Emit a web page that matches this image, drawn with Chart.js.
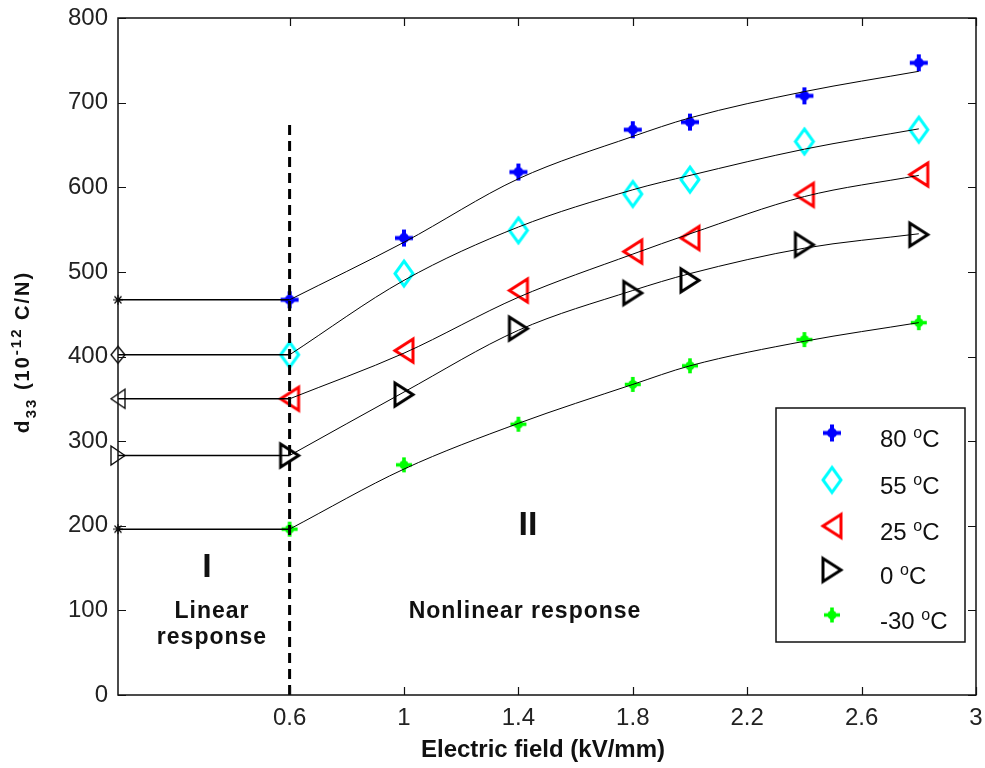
<!DOCTYPE html>
<html>
<head>
<meta charset="utf-8">
<script src="https://cdn.jsdelivr.net/npm/chart.js@4.4.1/dist/chart.umd.min.js"></script>
<style>
  html, body { margin: 0; padding: 0; background: #fff; }
  #wrap { width: 985px; height: 768px; }
</style>
</head>
<body>
<div id="wrap"><canvas id="d33Chart" width="985" height="768"></canvas></div>
<script>
// --- DATA ---
// electric field where d33 was measured (kV/mm)
const fieldPoints = [0.6, 1.0, 1.4, 1.8, 2.0, 2.4, 2.8];
const temperatureLabels = ['80', '55', '25', '0', '-30'];

// measured d33 (10^-12 C/N)
const d33At80 = [467, 540, 618, 668, 677, 708, 747];
const d33At55 = [402, 498, 549, 592, 609, 654, 668];
const d33At25 = [350, 407, 478, 524, 540, 591, 615];
const d33At0 = [283, 355, 433, 475, 490, 532, 544];
const d33AtMinus30 = [196, 272, 320, 367, 389, 420, 440];

// fitted curves in the nonlinear region
const fitAt80 = [467, 535, 610, 660, 682, 713, 737];
const fitAt55 = [402, 490, 553, 597, 614, 645, 669];
const fitAt25 = [350, 404, 470, 521, 545, 589, 614];
const fitAt0 = [283, 358, 431, 478, 498, 528, 545];
const fitAtMinus30 = [196, 267, 321, 367, 389, 418, 440];

// end of the linear-response region
const linearLimit = 0.6;
const dividerTop = 678;

const xTicks = [0.6, 1, 1.4, 1.8, 2.2, 2.6, 3];

const FONT = "'Liberation Sans', Arial, sans-serif";

// --- MARKERS ---
// small canvases used as point styles (MATLAB-like shapes)
function makeMarker(kind, color, w, h, lw) {
  const pad = Math.ceil(lw) + 1;
  const c = document.createElement('canvas');
  c.width = w + pad * 2;
  c.height = h + pad * 2;
  const g = c.getContext('2d');
  g.translate(pad, pad);
  g.strokeStyle = color;
  g.fillStyle = color;
  g.lineWidth = lw;
  g.lineJoin = 'miter';
  const cx = w / 2, cy = h / 2;
  g.beginPath();
  if (kind === 'star') {
    // chunky plus with a filled core
    g.moveTo(cx, 0); g.lineTo(cx, h);
    g.moveTo(0, cy); g.lineTo(w, cy);
    g.stroke();
    g.beginPath();
    g.arc(cx, cy, w * 0.28, 0, Math.PI * 2);
    g.fill();
    return c;
  }
  if (kind === 'asterisk') {
    g.moveTo(cx, 0); g.lineTo(cx, h);
    g.moveTo(0, cy); g.lineTo(w, cy);
    const d = w * 0.35;
    g.moveTo(cx - d, cy - d); g.lineTo(cx + d, cy + d);
    g.moveTo(cx + d, cy - d); g.lineTo(cx - d, cy + d);
    g.stroke();
    return c;
  }
  if (kind === 'diamond') {
    g.moveTo(cx, 0); g.lineTo(w, cy); g.lineTo(cx, h); g.lineTo(0, cy);
  } else if (kind === 'left') {
    g.moveTo(0, cy); g.lineTo(w, 0); g.lineTo(w, h);
  } else if (kind === 'right') {
    g.moveTo(w, cy); g.lineTo(0, 0); g.lineTo(0, h);
  }
  g.closePath();
  g.stroke();
  return c;
}

const seriesStyles = [
  { marker: makeMarker('star', '#0000ff', 18, 17, 4), small: makeMarker('asterisk', '#000', 10, 10, 1.2) },
  { marker: makeMarker('diamond', '#00ffff', 18, 25, 3), small: makeMarker('diamond', '#000', 14, 17, 1.3) },
  { marker: makeMarker('left', '#ff0000', 18, 23, 3), small: makeMarker('left', '#000', 14, 19, 1.3) },
  { marker: makeMarker('right', '#000000', 18, 23, 3), small: makeMarker('right', '#000', 14, 19, 1.3) },
  { marker: makeMarker('star', '#00ff00', 16, 15, 3.6), small: makeMarker('asterisk', '#000', 10, 10, 1.2) }
];

const measured = [d33At80, d33At55, d33At25, d33At0, d33AtMinus30];
const fitted = [fitAt80, fitAt55, fitAt25, fitAt0, fitAtMinus30];

const datasets = [];

// dashed divider between the two regions
datasets.push({
  data: [{ x: linearLimit, y: 0 }, { x: linearLimit, y: dividerTop }],
  showLine: true,
  borderColor: '#000',
  borderWidth: 3,
  borderDash: [10, 6],
  pointRadius: 0,
  order: 0
});

measured.forEach((vals, i) => {
  // flat linear-response segment with its marker on the y axis
  datasets.push({
    data: [{ x: 0, y: vals[0] }, { x: linearLimit, y: vals[0] }],
    showLine: true,
    borderColor: '#000',
    borderWidth: 1.5,
    pointStyle: seriesStyles[i].small,
    pointRadius: ctx => (ctx.dataIndex === 0 ? 5 : 0),
    clip: false,
    order: 1
  });
  // fitted curve, drawn over the markers
  datasets.push({
    data: fieldPoints.map((x, k) => ({ x, y: fitted[i][k] })),
    showLine: true,
    borderColor: '#000',
    borderWidth: 1,
    cubicInterpolationMode: 'monotone',
    pointRadius: 0,
    order: 1
  });
  // measured points
  datasets.push({
    data: fieldPoints.map((x, k) => ({ x, y: vals[k] })),
    showLine: false,
    pointStyle: seriesStyles[i].marker,
    pointRadius: 8,
    clip: false,
    order: 2
  });
});

// --- DECORATIONS: frame, inward ticks, titles, notes, legend ---
function drawRich(ctx, parts, x, y, align) {
  let total = 0;
  parts.forEach(p => { ctx.font = p.font; total += ctx.measureText(p.t).width; });
  let cx = align === 'center' ? x - total / 2 : x;
  parts.forEach(p => {
    ctx.font = p.font;
    ctx.fillText(p.t, cx, y + (p.dy || 0));
    cx += ctx.measureText(p.t).width;
  });
}

const decorations = {
  id: 'decorations',
  afterDraw(chart) {
    const ctx = chart.ctx;
    const a = chart.chartArea;
    const xs = chart.scales.x, ys = chart.scales.y;
    ctx.save();

    // frame
    ctx.strokeStyle = '#111';
    ctx.lineWidth = 1.5;
    ctx.strokeRect(a.left, a.top, a.right - a.left, a.bottom - a.top);

    // inward ticks on all four sides
    const tl = 8;
    ctx.beginPath();
    xs.ticks.forEach(t => {
      const px = Math.round(xs.getPixelForValue(t.value)) + 0.5;
      ctx.moveTo(px, a.bottom); ctx.lineTo(px, a.bottom - tl);
      ctx.moveTo(px, a.top); ctx.lineTo(px, a.top + tl);
    });
    ys.ticks.forEach(t => {
      const py = Math.round(ys.getPixelForValue(t.value)) + 0.5;
      ctx.moveTo(a.left, py); ctx.lineTo(a.left + tl, py);
      ctx.moveTo(a.right, py); ctx.lineTo(a.right - tl, py);
    });
    ctx.lineWidth = 1.2;
    ctx.stroke();

    ctx.fillStyle = '#111';
    ctx.textBaseline = 'alphabetic';

    // x title
    ctx.font = 'bold 24px ' + FONT;
    ctx.textAlign = 'center';
    ctx.fillText('Electric field (kV/mm)', 543, 757);

    // y title, rotated
    ctx.save();
    ctx.translate(29, 352);
    ctx.rotate(-Math.PI / 2);
    ctx.textAlign = 'left';
    ctx.letterSpacing = '2px';
    drawRich(ctx, [
      { t: 'd', font: 'bold 21px ' + FONT },
      { t: '33', font: 'bold 15px ' + FONT, dy: 7 },
      { t: ' (10', font: 'bold 20px ' + FONT },
      { t: '-12', font: 'bold 15px ' + FONT, dy: -8 },
      { t: ' C/N)', font: 'bold 20px ' + FONT }
    ], 0, 0, 'center');
    ctx.restore();

    // region notes
    ctx.textAlign = 'center';
    ctx.textBaseline = 'middle';
    ctx.font = 'bold 34px ' + FONT;
    ctx.fillText('I', 207, 568);
    ctx.fillText('II', 528, 526);
    ctx.letterSpacing = '1px';
    ctx.font = 'bold 23px ' + FONT;
    ctx.fillText('Linear', 212, 612);
    ctx.fillText('response', 212, 638);
    ctx.fillText('Nonlinear response', 525, 612);
    ctx.letterSpacing = '0px';

    // legend
    const box = { left: 776, top: 408, right: 965, bottom: 642 };
    ctx.fillStyle = '#fff';
    ctx.fillRect(box.left, box.top, box.right - box.left, box.bottom - box.top);
    ctx.strokeStyle = '#111';
    ctx.lineWidth = 1.5;
    ctx.strokeRect(box.left, box.top, box.right - box.left, box.bottom - box.top);
    const rowY = [433, 480, 526, 570, 615];
    ctx.textAlign = 'left';
    ctx.textBaseline = 'alphabetic';
    ctx.fillStyle = '#111';
    temperatureLabels.forEach((lab, i) => {
      const img = seriesStyles[i].marker;
      ctx.drawImage(img, 832 - img.width / 2, rowY[i] - img.height / 2);
      drawRich(ctx, [
        { t: lab + ' ', font: '24px ' + FONT },
        { t: 'o', font: '16px ' + FONT, dy: -9 },
        { t: 'C', font: '24px ' + FONT }
      ], 880, rowY[i] + 14, 'left');
    });

    ctx.restore();
  }
};

// --- CHART SETUP ---
const ctx = document.getElementById('d33Chart').getContext('2d');
new Chart(ctx, {
  type: 'scatter',
  data: { datasets },
  options: {
    responsive: false,
    animation: false,
    events: [],
    layout: { padding: { top: 18, right: 7, left: 0, bottom: 0 } },
    plugins: {
      legend: { display: false },
      tooltip: { enabled: false }
    },
    scales: {
      x: {
        type: 'linear',
        min: 0,
        max: 3,
        afterBuildTicks: scale => { scale.ticks = xTicks.map(v => ({ value: v })); },
        afterFit: scale => {
          scale.height = 73;
          scale.paddingLeft = 0;
          scale.paddingRight = 0;
        },
        grid: { display: false, drawTicks: false },
        border: { display: false },
        ticks: {
          autoSkip: false,
          maxRotation: 0,
          padding: 9,
          color: '#222',
          font: { family: FONT, size: 24 },
          callback: v => String(v)
        }
      },
      y: {
        min: 0,
        max: 800,
        afterFit: scale => {
          scale.width = 118;
          scale.paddingTop = 0;
          scale.paddingBottom = 0;
        },
        grid: { display: false, drawTicks: false },
        border: { display: false },
        ticks: {
          stepSize: 100,
          padding: 10,
          color: '#222',
          font: { family: FONT, size: 24 },
          callback: v => String(v)
        }
      }
    }
  },
  plugins: [decorations]
});
</script>
</body>
</html>
